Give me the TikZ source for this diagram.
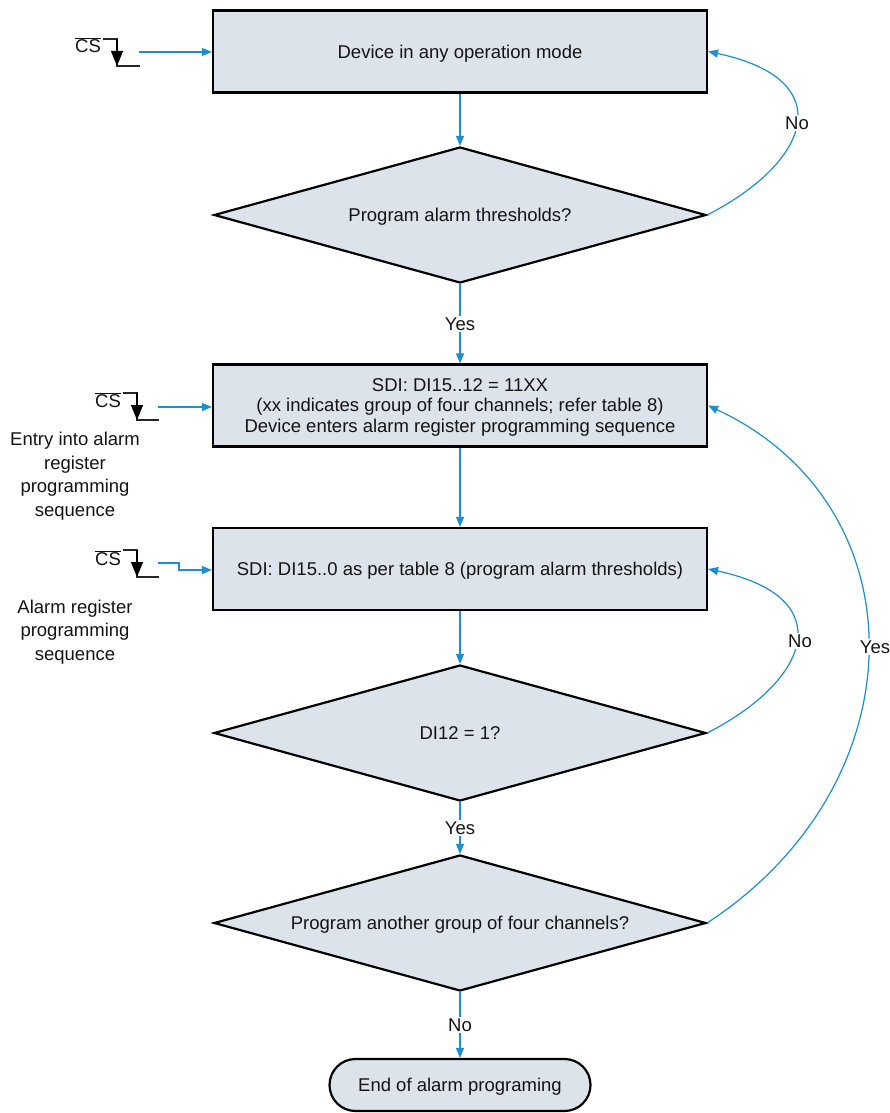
\documentclass[tikz,border=0pt]{standalone}
\usepackage{fontspec}
\setmainfont{Liberation Sans}
\usetikzlibrary{shapes.geometric,arrows.meta}
\definecolor{fillc}{RGB}{221,227,235}
\definecolor{linkc}{RGB}{27,143,209}
\definecolor{txtc}{RGB}{20,20,20}
\begin{document}
\begin{tikzpicture}[x=1pt,y=-1pt,
  font=\fontsize{18.5}{20.5}\selectfont, text=txtc,
  procbox/.style={rectangle, draw=black, line width=2.2pt, fill=fillc,
    minimum width=494pt, minimum height=82pt, inner sep=0pt, align=center, text depth=0pt},
  decision/.style={diamond, draw=black, line width=2.2pt, fill=fillc,
    minimum width=492pt, minimum height=136pt, inner sep=0pt, shape aspect=3.6, text depth=0pt},
  terminal/.style={rectangle, rounded corners=26pt, draw=black, line width=2.2pt,
    fill=fillc, minimum width=261pt, minimum height=52pt, inner sep=0pt, text depth=0pt},
  link/.style={draw=linkc, line width=1.2pt, -{Triangle[length=10pt,width=8pt]}},
  wave/.style={draw=black!85, line width=1.2pt},
  wavehead/.style={draw=black, fill=black, line width=1.2pt, -{Triangle[length=15pt,width=12pt]}},
  lbl/.style={fill=white, inner sep=1.5pt},
  side/.style={align=center, font=\fontsize{18.5}{23.5}\selectfont}]
\useasboundingbox (0,0) rectangle (889,1113);

% main nodes
\node[procbox] (b1) at (460,51.5) {Device in any operation mode};
\node[decision] (d1) at (460,215) {Program alarm thresholds?};
\node[procbox] (b2) at (460,405.5) {SDI: DI15..12 = 11XX\\(xx indicates group of four channels; refer table 8)\\Device enters alarm register programming sequence};
\node[procbox] (b3) at (460,569) {SDI: DI15..0 as per table 8 (program alarm thresholds)};
\node[decision] (d2) at (460,733) {DI12 = 1?};
\node[decision] (d3) at (460,923) {Program another group of four channels?};
\node[terminal] (t1) at (460,1085) {End of alarm programing};

% vertical connectors
\draw[link] (b1.south) -- (d1.north);
\draw[link] (d1.south) -- node[lbl] (ly1) {Yes} (b2.north);
\draw[link] (b2.south) -- (b3.north);
\draw[link] (b3.south) -- (d2.north);
\draw[link] (d2.south) -- node[lbl] (ly2) {Yes} (d3.north);
\draw[link] (d3.south) -- node[lbl] (ln3) {No} (t1.north);

% loop-back curves
\draw[link] (d1.east) .. controls +(102.7,-52.3) and +(133.3,28.3) .. (b1.east);
\draw[link] (d2.east) .. controls +(102.7,-52.3) and +(133.3,28.3) .. (b3.east);
\draw[link] (d3.east) .. controls +(214,-140) and +(214,100) .. (b2.east);
\node[lbl] (ln1) at (797,123) {No};
\node[lbl] (ln2) at (800,641) {No};
\node[lbl] (ly3) at (875,647) {Yes};

% CS 1
\node (cs1) at (88,45) {$\overline{\mbox{CS}}$};
\coordinate (w1a) at (103,39);
\coordinate (w1b) at (117,39);
\coordinate (w1c) at (117,66);
\coordinate (w1d) at (140,66);
\draw[wave] (w1a) -- (w1b) -- (w1c) -- (w1d);
\draw[wavehead] (w1b) -- (w1c);
\coordinate (s1) at (139,52);
\draw[link] (s1) -- (s1 -| b1.west);

% CS 2
\node (cs2) at (108,400) {$\overline{\mbox{CS}}$};
\coordinate (w2a) at (123,393);
\coordinate (w2b) at (137,393);
\coordinate (w2c) at (137,420);
\coordinate (w2d) at (159,420);
\draw[wave] (w2a) -- (w2b) -- (w2c) -- (w2d);
\draw[wavehead] (w2b) -- (w2c);
\coordinate (s2) at (158,407);
\draw[link] (s2) -- (s2 -| b2.west);

% CS 3
\node (cs3) at (108,558) {$\overline{\mbox{CS}}$};
\coordinate (w3a) at (123,550);
\coordinate (w3b) at (137,550);
\coordinate (w3c) at (137,577);
\coordinate (w3d) at (159,577);
\draw[wave] (w3a) -- (w3b) -- (w3c) -- (w3d);
\draw[wavehead] (w3b) -- (w3c);
\coordinate (s3) at (158,563);
\coordinate (s3k) at (179,563);
\coordinate (s3m) at (179,570);
\draw[link] (s3) -- (s3k) -- (s3m) -- (s3m -| b3.west);

% side labels
\node[side] (e1) at (75,476) {Entry into alarm\\register\\programming\\sequence};
\node[side] (e2) at (75,632) {Alarm register\\programming\\sequence};
\end{tikzpicture}
\end{document}
